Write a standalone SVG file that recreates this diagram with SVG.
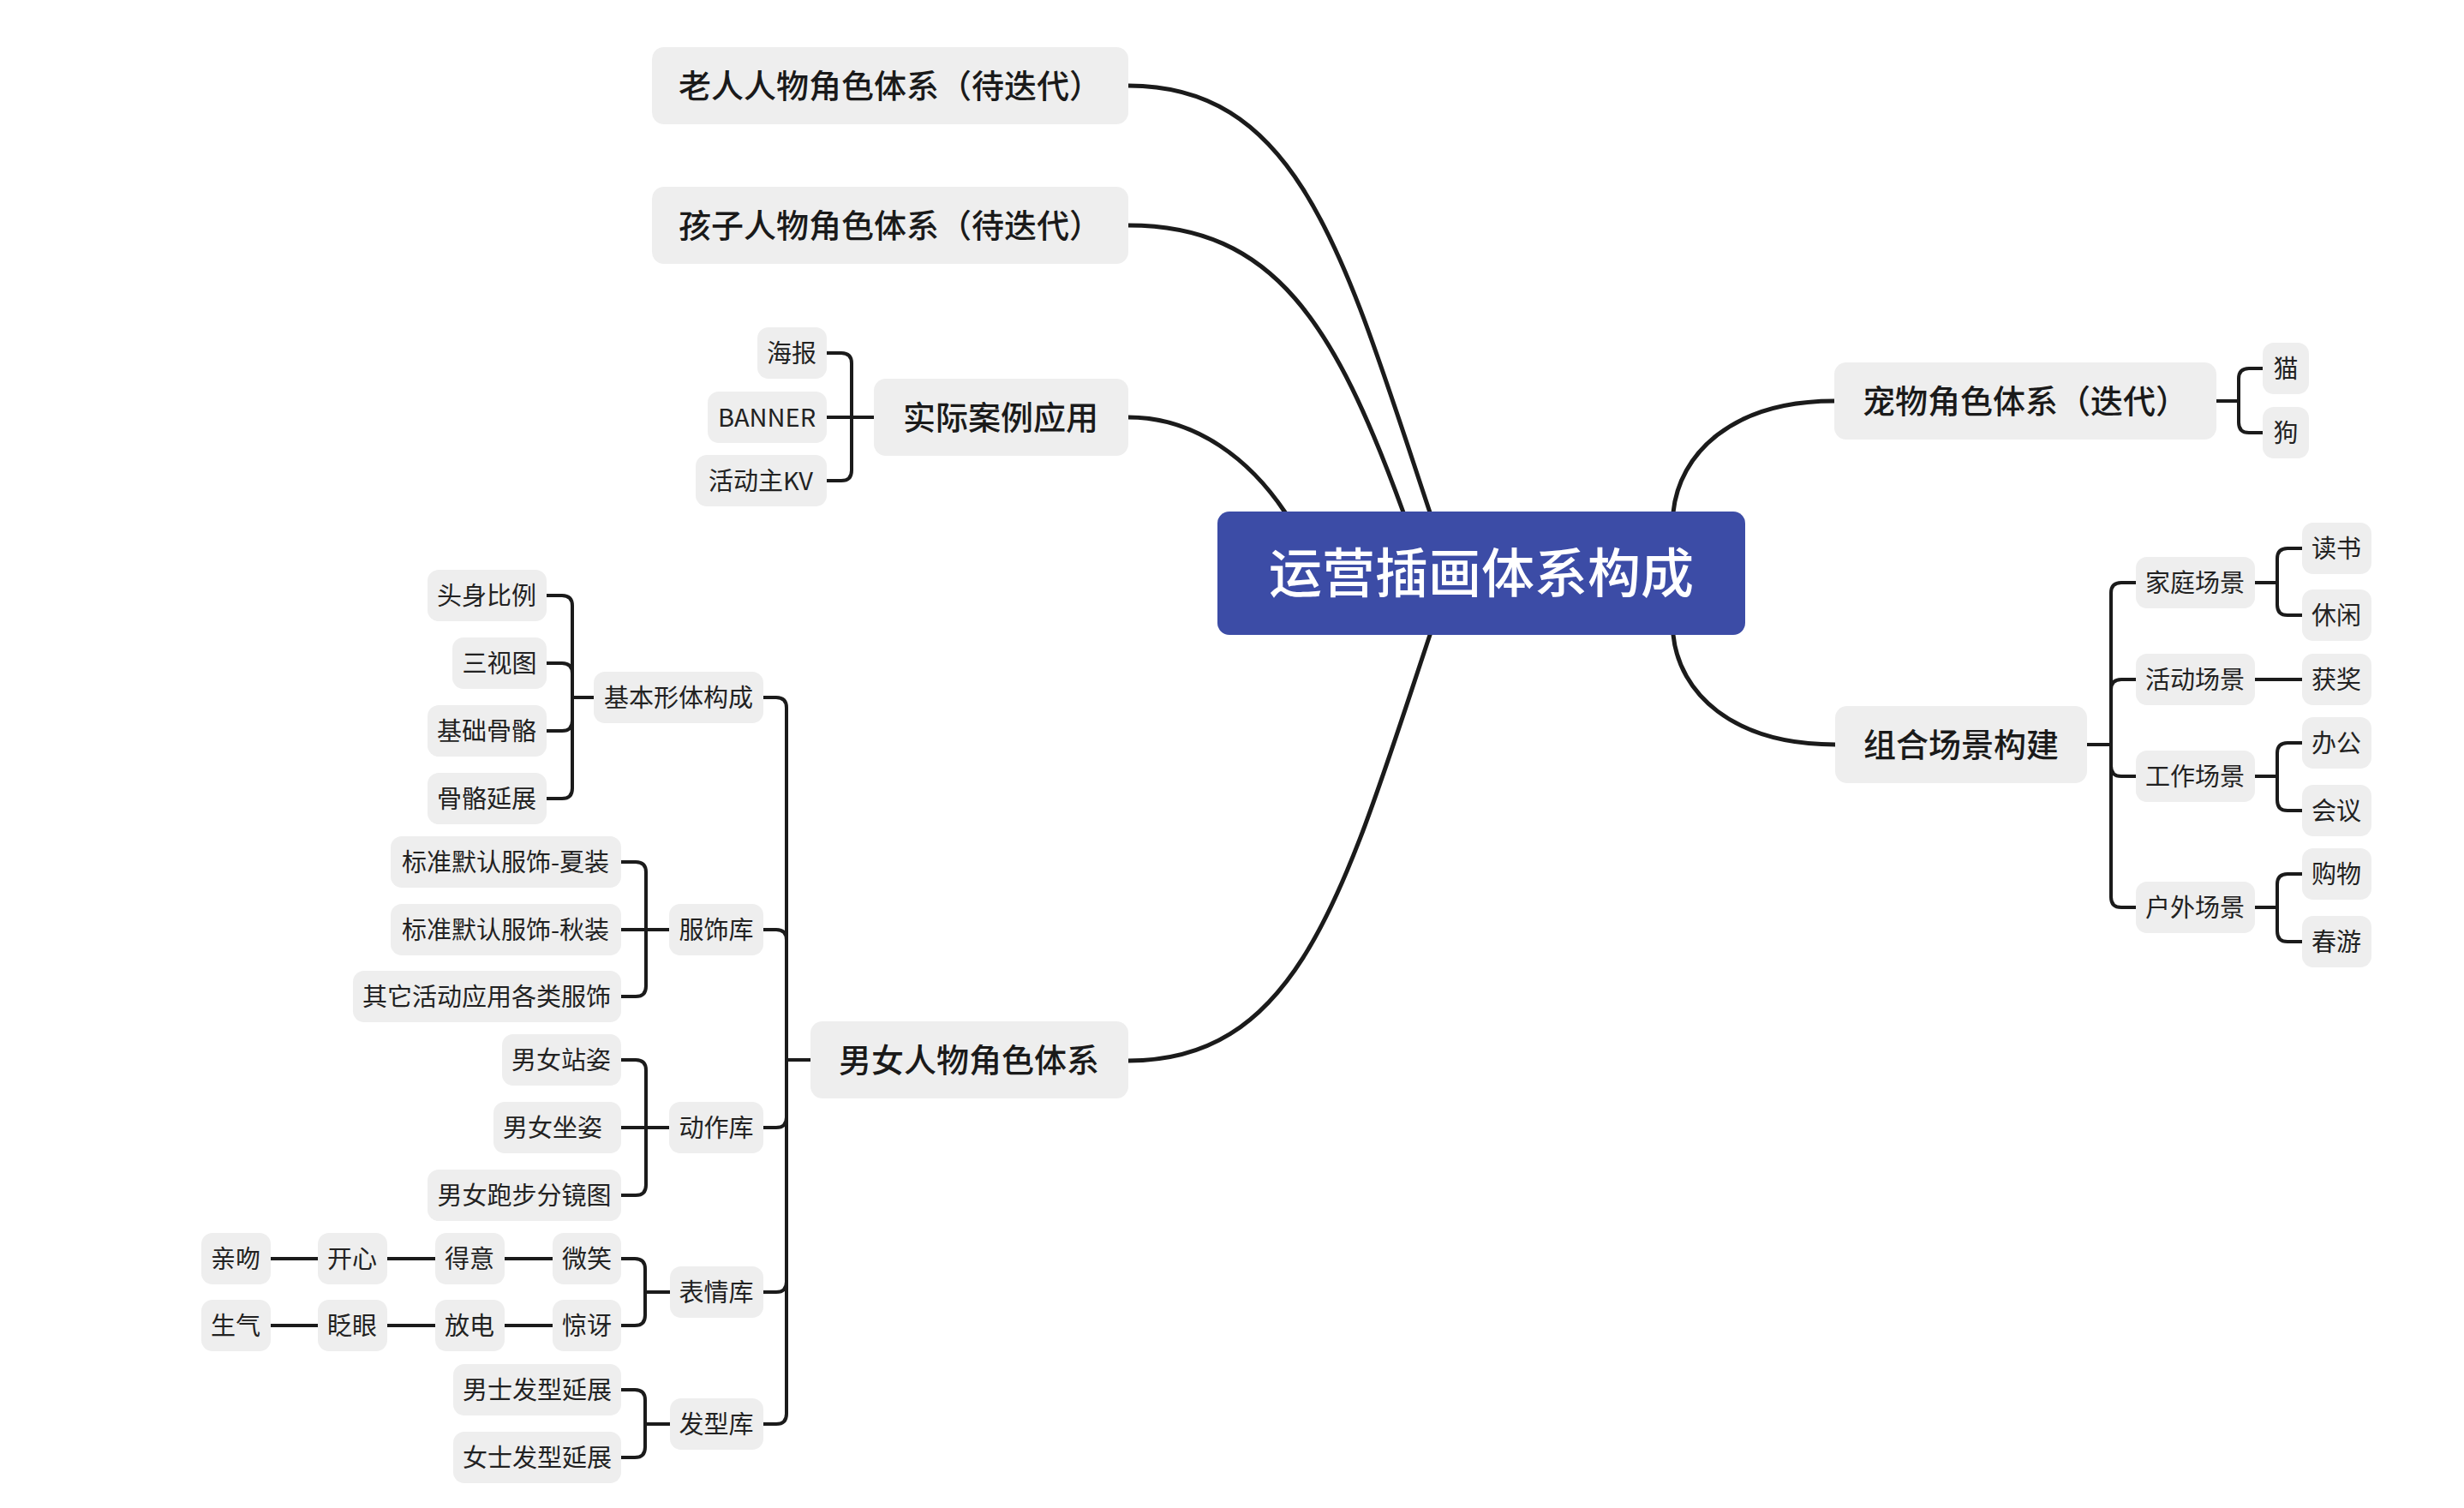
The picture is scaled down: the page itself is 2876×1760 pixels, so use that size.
<svg xmlns="http://www.w3.org/2000/svg" width="2876" height="1760" viewBox="0 0 2876 1760">
<style>
.b{fill:#eeeeee}
.t{font-family:"Noto Sans CJK SC","Noto Sans",sans-serif;font-size:29px;fill:#222222;text-anchor:middle}
.m{font-size:38px;font-weight:500;fill:#1a1a1a}
.r{font-size:62px;font-weight:500;fill:#ffffff}
.c{fill:none;stroke:#1b1b1b;stroke-width:4;stroke-linecap:round;stroke-linejoin:round}
.mc{stroke-width:5}
</style>
<rect width="2876" height="1760" fill="#ffffff"/>
<g id="connectors">
<g class="c mc">
<path d="M1317,100 C1517,100 1569,298 1669,598 L1690,661"/>
<path d="M1317,263 C1487,263 1558,378 1638,598 L1660,658"/>
<path d="M1317,487 C1397,487 1460,538 1500,598 L1540,658"/>
<path d="M2141,468 C2021,468 1960,530 1953,598 L1947,660"/>
<path d="M2142,869 C2021,869 1960,808 1953,741 L1947,680"/>
<path d="M1317,1238 C1517,1238 1569,1041 1669,741 L1690,678"/>
</g>
<g class="c">
<path d="M1020,487 H994 M994,487 V424 Q994,412 982,412 H965 M994,487 H965 M994,487 V549 Q994,561 982,561 H965"/>
<path d="M946,1237 H918 M918,1237 V826 Q918,814 906,814 H891 M918,1237 V1097 Q918,1085 906,1085 H891 M918,1237 V1304 Q918,1316 906,1316 H891 M918,1237 V1496 Q918,1508 906,1508 H891 M918,1237 V1650 Q918,1662 906,1662 H891"/>
<path d="M693,814 H668 M668,814 V707 Q668,695 656,695 H638 M668,814 V786 Q668,774 656,774 H638 M668,814 V841 Q668,853 656,853 H638 M668,814 V920 Q668,932 656,932 H638"/>
<path d="M781,1085 H754 M754,1085 V1018 Q754,1006 742,1006 H725 M754,1085 H725 M754,1085 V1151 Q754,1163 742,1163 H725"/>
<path d="M781,1316 H754 M754,1316 V1249 Q754,1237 742,1237 H725 M754,1316 H725 M754,1316 V1383 Q754,1395 742,1395 H725"/>
<path d="M782,1508 H753 M753,1508 V1481 Q753,1469 741,1469 H725 M753,1508 V1535 Q753,1547 741,1547 H725"/>
<path d="M782,1662 H753 M753,1662 V1634 Q753,1622 741,1622 H725 M753,1662 V1689 Q753,1701 741,1701 H725"/>
<path d="M316,1469 H371 M452,1469 H508 M589,1469 H645 M316,1547 H371 M452,1547 H508 M589,1547 H645"/>
<path d="M2587,468 H2613 M2613,468 V442 Q2613,430 2625,430 H2641 M2613,468 V493 Q2613,505 2625,505 H2641"/>
<path d="M2436,869 H2464 M2464,869 V692 Q2464,680 2476,680 H2493 M2464,869 V805 Q2464,793 2476,793 H2493 M2464,869 V894 Q2464,906 2476,906 H2493 M2464,869 V1047 Q2464,1059 2476,1059 H2493"/>
<path d="M2632,680 H2658 M2658,680 V652 Q2658,640 2670,640 H2687 M2658,680 V706 Q2658,718 2670,718 H2687"/>
<path d="M2632,793 H2687"/>
<path d="M2632,906 H2658 M2658,906 V879 Q2658,867 2670,867 H2687 M2658,906 V934 Q2658,946 2670,946 H2687"/>
<path d="M2632,1059 H2658 M2658,1059 V1032 Q2658,1020 2670,1020 H2687 M2658,1059 V1087 Q2658,1099 2670,1099 H2687"/>
</g>
</g>
<g id="root"><rect x="1421" y="597" width="616" height="144" rx="14" fill="#3c4ca6"/><text class="t r" x="1729" y="692">运营插画体系构成</text></g>
<g id="laoren"><rect class="b" x="761" y="55" width="556" height="90" rx="14"/><text class="t m" x="1039" y="114">老人人物角色体系（待迭代）</text></g>
<g id="haizi"><rect class="b" x="761" y="218" width="556" height="90" rx="14"/><text class="t m" x="1039" y="277">孩子人物角色体系（待迭代）</text></g>
<g id="shiji"><rect class="b" x="1020" y="442" width="297" height="90" rx="14"/><text class="t m" x="1168" y="501">实际案例应用</text></g>
<g id="haibao"><rect class="b" x="884" y="382" width="81" height="60" rx="13"/><text class="t" x="924" y="422.5">海报</text></g>
<g id="banner"><rect class="b" x="826" y="457" width="139" height="60" rx="13"/><text class="t" x="895" y="497.5">BANNER</text></g>
<g id="kv"><rect class="b" x="812" y="531" width="153" height="60" rx="13"/><text class="t" x="888" y="571.5">活动主KV</text></g>
<g id="chongwu"><rect class="b" x="2141" y="423" width="446" height="90" rx="14"/><text class="t m" x="2364" y="482">宠物角色体系（迭代）</text></g>
<g id="mao"><rect class="b" x="2641" y="400" width="54" height="60" rx="13"/><text class="t" x="2668" y="440.5">猫</text></g>
<g id="gou"><rect class="b" x="2641" y="475" width="54" height="60" rx="13"/><text class="t" x="2668" y="515.5">狗</text></g>
<g id="zuhe"><rect class="b" x="2142" y="824" width="294" height="90" rx="14"/><text class="t m" x="2289" y="883">组合场景构建</text></g>
<g id="jiating"><rect class="b" x="2493" y="650" width="139" height="60" rx="13"/><text class="t" x="2562" y="690.5">家庭场景</text></g>
<g id="huodong"><rect class="b" x="2493" y="763" width="139" height="60" rx="13"/><text class="t" x="2562" y="803.5">活动场景</text></g>
<g id="gongzuo"><rect class="b" x="2493" y="876" width="139" height="60" rx="13"/><text class="t" x="2562" y="916.5">工作场景</text></g>
<g id="huwai"><rect class="b" x="2493" y="1029" width="139" height="60" rx="13"/><text class="t" x="2562" y="1069.5">户外场景</text></g>
<g id="dushu"><rect class="b" x="2687" y="610" width="81" height="60" rx="13"/><text class="t" x="2727" y="650.5">读书</text></g>
<g id="xiuxian"><rect class="b" x="2687" y="688" width="81" height="60" rx="13"/><text class="t" x="2727" y="728.5">休闲</text></g>
<g id="huojiang"><rect class="b" x="2687" y="763" width="81" height="60" rx="13"/><text class="t" x="2727" y="803.5">获奖</text></g>
<g id="bangong"><rect class="b" x="2687" y="837" width="81" height="60" rx="13"/><text class="t" x="2727" y="877.5">办公</text></g>
<g id="huiyi"><rect class="b" x="2687" y="916" width="81" height="60" rx="13"/><text class="t" x="2727" y="956.5">会议</text></g>
<g id="gouwu"><rect class="b" x="2687" y="990" width="81" height="60" rx="13"/><text class="t" x="2727" y="1030.5">购物</text></g>
<g id="chunyou"><rect class="b" x="2687" y="1069" width="81" height="60" rx="13"/><text class="t" x="2727" y="1109.5">春游</text></g>
<g id="nannv"><rect class="b" x="946" y="1192" width="371" height="90" rx="14"/><text class="t m" x="1131" y="1251">男女人物角色体系</text></g>
<g id="jiben"><rect class="b" x="693" y="784" width="198" height="60" rx="13"/><text class="t" x="792" y="824.5">基本形体构成</text></g>
<g id="toushen"><rect class="b" x="499" y="665" width="139" height="60" rx="13"/><text class="t" x="568" y="705.5">头身比例</text></g>
<g id="sanshi"><rect class="b" x="528" y="744" width="110" height="60" rx="13"/><text class="t" x="583" y="784.5">三视图</text></g>
<g id="jichu"><rect class="b" x="499" y="823" width="139" height="60" rx="13"/><text class="t" x="568" y="863.5">基础骨骼</text></g>
<g id="guge"><rect class="b" x="499" y="902" width="139" height="60" rx="13"/><text class="t" x="568" y="942.5">骨骼延展</text></g>
<g id="fushi"><rect class="b" x="781" y="1055" width="110" height="60" rx="13"/><text class="t" x="836" y="1095.5">服饰库</text></g>
<g id="xiazhuang"><rect class="b" x="456" y="976" width="269" height="60" rx="13"/><text class="t" x="590" y="1016.5">标准默认服饰-夏装</text></g>
<g id="qiuzhuang"><rect class="b" x="456" y="1055" width="269" height="60" rx="13"/><text class="t" x="590" y="1095.5">标准默认服饰-秋装</text></g>
<g id="qita"><rect class="b" x="412" y="1133" width="313" height="60" rx="13"/><text class="t" x="568" y="1173.5">其它活动应用各类服饰</text></g>
<g id="dongzuo"><rect class="b" x="781" y="1286" width="110" height="60" rx="13"/><text class="t" x="836" y="1326.5">动作库</text></g>
<g id="zhanzi"><rect class="b" x="586" y="1207" width="139" height="60" rx="13"/><text class="t" x="655" y="1247.5">男女站姿</text></g>
<g id="zuozi"><rect class="b" x="576" y="1286" width="149" height="60" rx="13"/><text class="t" x="645" y="1326.5">男女坐姿</text></g>
<g id="paobu"><rect class="b" x="499" y="1365" width="226" height="60" rx="13"/><text class="t" x="612" y="1405.5">男女跑步分镜图</text></g>
<g id="biaoqing"><rect class="b" x="782" y="1478" width="109" height="60" rx="13"/><text class="t" x="836" y="1518.5">表情库</text></g>
<g id="weixiao"><rect class="b" x="645" y="1439" width="80" height="60" rx="13"/><text class="t" x="685" y="1479.5">微笑</text></g>
<g id="deyi"><rect class="b" x="508" y="1439" width="81" height="60" rx="13"/><text class="t" x="548" y="1479.5">得意</text></g>
<g id="kaixin"><rect class="b" x="371" y="1439" width="81" height="60" rx="13"/><text class="t" x="411" y="1479.5">开心</text></g>
<g id="qinwen"><rect class="b" x="235" y="1439" width="81" height="60" rx="13"/><text class="t" x="275" y="1479.5">亲吻</text></g>
<g id="jingya"><rect class="b" x="645" y="1517" width="80" height="60" rx="13"/><text class="t" x="685" y="1557.5">惊讶</text></g>
<g id="fangdian"><rect class="b" x="508" y="1517" width="81" height="60" rx="13"/><text class="t" x="548" y="1557.5">放电</text></g>
<g id="zhayan"><rect class="b" x="371" y="1517" width="81" height="60" rx="13"/><text class="t" x="411" y="1557.5">眨眼</text></g>
<g id="shengqi"><rect class="b" x="235" y="1517" width="81" height="60" rx="13"/><text class="t" x="275" y="1557.5">生气</text></g>
<g id="faxing"><rect class="b" x="782" y="1632" width="109" height="60" rx="13"/><text class="t" x="836" y="1672.5">发型库</text></g>
<g id="nanshi"><rect class="b" x="529" y="1592" width="196" height="60" rx="13"/><text class="t" x="627" y="1632.5">男士发型延展</text></g>
<g id="nvshi"><rect class="b" x="529" y="1671" width="196" height="60" rx="13"/><text class="t" x="627" y="1711.5">女士发型延展</text></g>
</svg>
